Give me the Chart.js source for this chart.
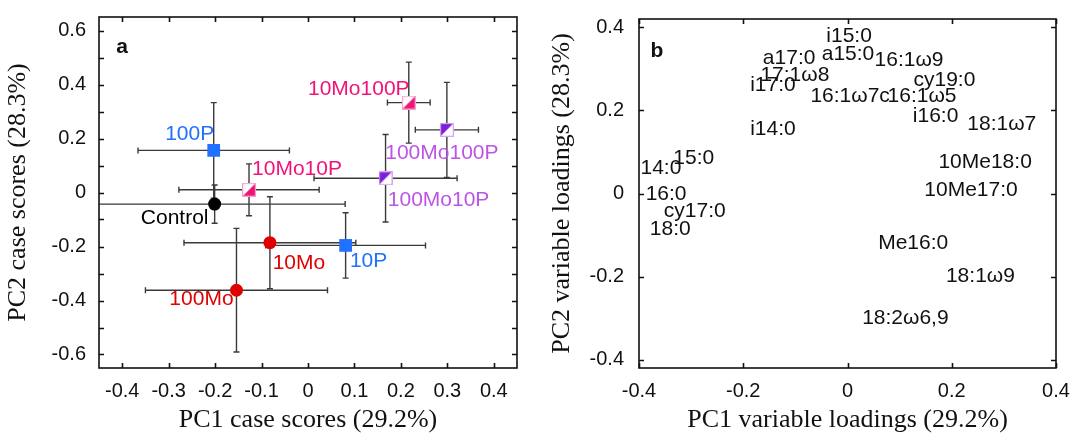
<!DOCTYPE html>
<html>
<head>
<meta charset="utf-8">
<script src="https://cdn.jsdelivr.net/npm/chart.js@4.4.1/dist/chart.umd.min.js"></script>
<style>
  html, body { margin: 0; padding: 0; background: #fff; }
  #wrap { position: relative; width: 1076px; height: 434px; }
  .panel { position: absolute; top: 0; width: 538px; height: 434px; }
  #panelA { left: 0; }
  #panelB { left: 538px; }
</style>
</head>
<body>
<div id="wrap">
  <div class="panel" id="panelA"><canvas id="chartA" width="538" height="434"></canvas></div>
  <div class="panel" id="panelB"><canvas id="chartB" width="538" height="434"></canvas></div>
</div>
<script>
/* global Chart */
(function () {
  "use strict";

  // ---- panel a: case scores (mean +/- error) ----
  const treatments = ["Control", "10Mo", "100Mo", "10P", "100P", "10Mo10P", "10Mo100P", "100Mo10P", "100Mo100P"];
  const pc1Scores = [-0.201, -0.082, -0.154, 0.081, -0.203, -0.127, 0.217, 0.167, 0.299];
  const pc2Scores = [-0.043, -0.186, -0.362, -0.196, 0.156, 0.010, 0.333, 0.053, 0.232];
  const pc1Err = [0.281, 0.185, 0.196, 0.172, 0.163, 0.151, 0.046, 0.154, 0.068];
  const pc2Err = [0.071, 0.170, 0.229, 0.121, 0.177, 0.096, 0.150, 0.162, 0.176];

  const xTicksA = [-0.4, -0.3, -0.2, -0.1, 0, 0.1, 0.2, 0.3, 0.4];
  const yTicksA = [-0.6, -0.4, -0.2, 0, 0.2, 0.4, 0.6];
  const yMarksA = [-0.6, -0.5, -0.4, -0.3, -0.2, -0.1, 0, 0.1, 0.2, 0.3, 0.4, 0.5, 0.6];

  // ---- panel b: variable loadings ----
  const fattyAcids = ["i15:0", "a17:0", "a15:0", "16:1ω9", "17:1ω8", "cy19:0", "i17:0", "16:1ω7c", "16:1ω5",
    "i16:0", "18:1ω7", "i14:0", "15:0", "14:0", "10Me18:0", "16:0", "10Me17:0", "cy17:0", "18:0",
    "Me16:0", "18:1ω9", "18:2ω6,9"];
  const pc1Loadings = [0.003, -0.112, 0.001, 0.118, -0.101, 0.186, -0.143, 0.005, 0.143,
    0.169, 0.296, -0.143, -0.295, -0.358, 0.264, -0.348, 0.237, -0.293, -0.340,
    0.126, 0.255, 0.111];
  const pc2Loadings = [0.379, 0.325, 0.336, 0.320, 0.285, 0.273, 0.261, 0.235, 0.235,
    0.186, 0.167, 0.155, 0.085, 0.061, 0.075, -0.002, 0.007, -0.042, -0.085,
    -0.120, -0.198, -0.299];

  const ticksB = [-0.4, -0.2, 0, 0.2, 0.4];

  // styling
  const BLUE = "#2170ff", RED = "#e00000", PINK = "#f0147a", PURPLE = "#7d1fd8", LILAC = "#bb55e6";
  const SANS = "'Liberation Sans', Arial, sans-serif";
  const SERIF = "'Liberation Serif', 'Times New Roman', serif";

  function splitSquare(fill, edge, lowerRight) {
    const s = 14;
    const c = document.createElement("canvas");
    c.width = s;
    c.height = s;
    const g = c.getContext("2d");
    g.fillStyle = "#fff";
    g.fillRect(0, 0, s, s);
    g.beginPath();
    if (lowerRight) {
      g.moveTo(s, 0); g.lineTo(s, s); g.lineTo(0, s);
    } else {
      g.moveTo(0, 0); g.lineTo(s, 0); g.lineTo(0, s);
    }
    g.closePath();
    g.fillStyle = fill;
    g.fill();
    g.strokeStyle = edge;
    g.lineWidth = 1.2;
    g.strokeRect(0.6, 0.6, s - 1.2, s - 1.2);
    return c;
  }

  const pinkSq = splitSquare(PINK, "#f7a0c8", true);
  const purpleSq = splitSquare(PURPLE, "#d9a8f2", false);

  const markerStyle = ["circle", "circle", "circle", "rect", "rect", pinkSq, pinkSq, purpleSq, purpleSq];
  const markerRadius = [6.5, 6.5, 6.5, 9, 9, 7, 7, 7, 7];
  const markerColor = ["#000", RED, RED, BLUE, BLUE, PINK, PINK, PURPLE, PURPLE];
  const labelColor = ["#000", RED, RED, BLUE, BLUE, PINK, PINK, LILAC, LILAC];
  const labelOffsets = [[-40, 14], [29, 20], [-35, 9], [23, 16], [-24, -16], [48, -21], [-50, -13], [53, 22], [-5, 23]];

  const fmt = (v) => (Math.abs(v) < 1e-9 ? "0" : v.toFixed(1));

  const framePlugin = {
    id: "frame",
    afterDraw(chart, args, opts) {
      const { ctx, chartArea: a, scales } = chart;
      ctx.save();
      ctx.strokeStyle = "#111";
      ctx.lineWidth = 1.6;
      ctx.beginPath();
      opts.xMarks.forEach((v) => {
        const px = Math.round(scales.x.getPixelForValue(v)) + 0.5;
        ctx.moveTo(px, a.bottom); ctx.lineTo(px, a.bottom - opts.len);
        ctx.moveTo(px, a.top); ctx.lineTo(px, a.top + opts.len);
      });
      opts.yMarks.forEach((v) => {
        const py = Math.round(scales.y.getPixelForValue(v)) + 0.5;
        ctx.moveTo(a.left, py); ctx.lineTo(a.left + opts.len, py);
        ctx.moveTo(a.right, py); ctx.lineTo(a.right - opts.len, py);
      });
      ctx.stroke();
      ctx.strokeRect(a.left, a.top, a.right - a.left, a.bottom - a.top);
      ctx.fillStyle = "#111";
      ctx.font = "bold 21px " + SANS;
      ctx.textAlign = "center";
      ctx.textBaseline = "middle";
      ctx.fillText(opts.letter, a.left + opts.letterAt[0], a.top + opts.letterAt[1]);
      ctx.restore();
    },
  };

  const errorBarPlugin = {
    id: "errbars",
    beforeDatasetsDraw(chart) {
      const { ctx, chartArea: a, scales: { x, y } } = chart;
      const cap = 3;
      ctx.save();
      ctx.beginPath();
      ctx.rect(a.left, a.top, a.right - a.left, a.bottom - a.top);
      ctx.clip();
      ctx.strokeStyle = "#3a3a3a";
      ctx.lineWidth = 1.4;
      ctx.beginPath();
      treatments.forEach((t, i) => {
        const cx = x.getPixelForValue(pc1Scores[i]);
        const cy = y.getPixelForValue(pc2Scores[i]);
        const x0 = x.getPixelForValue(pc1Scores[i] - pc1Err[i]);
        const x1 = x.getPixelForValue(pc1Scores[i] + pc1Err[i]);
        const y0 = y.getPixelForValue(pc2Scores[i] - pc2Err[i]);
        const y1 = y.getPixelForValue(pc2Scores[i] + pc2Err[i]);
        ctx.moveTo(x0, cy); ctx.lineTo(x1, cy);
        ctx.moveTo(x0, cy - cap); ctx.lineTo(x0, cy + cap);
        ctx.moveTo(x1, cy - cap); ctx.lineTo(x1, cy + cap);
        ctx.moveTo(cx, y0); ctx.lineTo(cx, y1);
        ctx.moveTo(cx - cap, y0); ctx.lineTo(cx + cap, y0);
        ctx.moveTo(cx - cap, y1); ctx.lineTo(cx + cap, y1);
      });
      ctx.stroke();
      ctx.restore();
    },
    afterDatasetsDraw(chart) {
      const { ctx, scales: { x, y } } = chart;
      ctx.save();
      ctx.font = "21px " + SANS;
      ctx.textAlign = "center";
      ctx.textBaseline = "middle";
      treatments.forEach((t, i) => {
        ctx.fillStyle = labelColor[i];
        ctx.fillText(t, x.getPixelForValue(pc1Scores[i]) + labelOffsets[i][0],
          y.getPixelForValue(pc2Scores[i]) + labelOffsets[i][1]);
      });
      ctx.restore();
    },
  };

  const textPointPlugin = {
    id: "textpoints",
    afterDatasetsDraw(chart) {
      const { ctx, scales: { x, y } } = chart;
      ctx.save();
      ctx.font = "21px " + SANS;
      ctx.fillStyle = "#111";
      ctx.textAlign = "center";
      ctx.textBaseline = "middle";
      fattyAcids.forEach((name, i) => {
        ctx.fillText(name, x.getPixelForValue(pc1Loadings[i]), y.getPixelForValue(pc2Loadings[i]));
      });
      ctx.restore();
    },
  };

  function axis(min, max, ticks, title, isX, fitSize, labelPad, titlePad) {
    return {
      type: "linear",
      min,
      max,
      grid: { display: false },
      border: { display: false },
      afterBuildTicks: (s) => { s.ticks = ticks.map((v) => ({ value: v })); },
      afterFit: (s) => { if (isX) s.height = fitSize; else s.width = fitSize; },
      ticks: {
        autoSkip: false,
        maxRotation: 0,
        padding: labelPad,
        color: "#111",
        font: { family: SANS, size: 20 },
        callback: (v) => fmt(v),
      },
      title: {
        display: true,
        text: title,
        color: "#111",
        font: { family: SERIF, size: 26, lineHeight: 1.1 },
        padding: { top: titlePad, bottom: 0 },
      },
    };
  }

  new Chart(document.getElementById("chartA"), {
    type: "scatter",
    data: {
      datasets: [{
        data: treatments.map((t, i) => ({ x: pc1Scores[i], y: pc2Scores[i] })),
        pointStyle: markerStyle,
        pointRadius: markerRadius,
        pointBackgroundColor: markerColor,
        pointBorderColor: markerColor,
        pointBorderWidth: 0,
      }],
    },
    options: {
      responsive: false,
      animation: false,
      layout: { padding: { left: 0, top: 13, right: 21, bottom: 0 } },
      scales: {
        x: axis(-0.45, 0.45, xTicksA, "PC1 case scores (29.2%)", true, 66, 3, 0),
        y: axis(-0.65, 0.65, yTicksA, "PC2 case scores (28.3%)", false, 99, 5, 4),
      },
      plugins: {
        legend: { display: false },
        tooltip: { enabled: false },
        frame: { xMarks: xTicksA, yMarks: yMarksA, len: 5, letter: "a", letterAt: [23, 30] },
      },
    },
    plugins: [errorBarPlugin, framePlugin],
  });

  new Chart(document.getElementById("chartB"), {
    type: "scatter",
    data: {
      datasets: [{
        data: fattyAcids.map((n, i) => ({ x: pc1Loadings[i], y: pc2Loadings[i] })),
        pointRadius: 0,
      }],
    },
    options: {
      responsive: false,
      animation: false,
      layout: { padding: { left: 0, top: 13, right: 20, bottom: 0 } },
      scales: {
        x: axis(-0.4, 0.4, ticksB, "PC1 variable loadings (29.2%)", true, 66, 3, 0),
        y: axis(-0.42, 0.42, ticksB, "PC2 variable loadings (28.3%)", false, 101, 7, 10),
      },
      plugins: {
        legend: { display: false },
        tooltip: { enabled: false },
        frame: { xMarks: ticksB, yMarks: ticksB, len: 5, letter: "b", letterAt: [18, 32] },
      },
    },
    plugins: [textPointPlugin, framePlugin],
  });
})();
</script>
</body>
</html>
